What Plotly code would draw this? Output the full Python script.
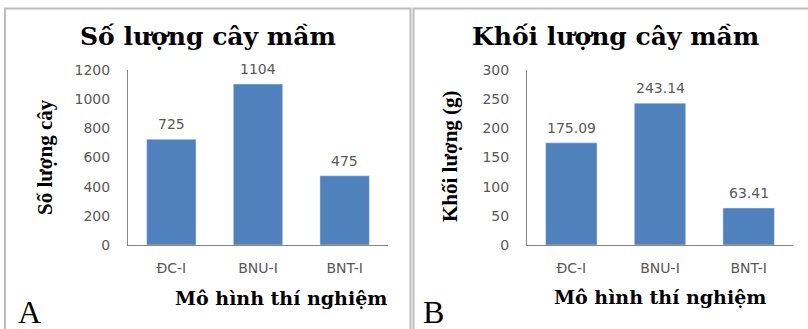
import plotly.graph_objects as go

categories = ["ĐC-I", "BNU-I", "BNT-I"]
counts = [725, 1104, 475]
count_labels = ["725", "1104", "475"]
masses = [175.09, 243.14, 63.41]
mass_labels = ["175.09", "243.14", "63.41"]
count_ticks = [0, 200, 400, 600, 800, 1000, 1200]
mass_ticks = [0, 50, 100, 150, 200, 250, 300]

W, H = 808, 329
def px(x):
    return x / W
def py(y):
    return 1 - y / H

BAR = "#4F81BD"
AX = "#868686"
TXT = "#595959"
tickfont = dict(family="DejaVu Sans", size=14, color=TXT)

fig = go.Figure()
fig.add_trace(go.Bar(x=categories, y=counts, marker=dict(color=BAR), width=0.57,
                     xaxis="x", yaxis="y", showlegend=False, cliponaxis=False))
fig.add_trace(go.Bar(x=categories, y=masses, marker=dict(color=BAR), width=0.58,
                     xaxis="x2", yaxis="y2", showlegend=False, cliponaxis=False))

annotations = []
for c, v, t in zip(categories, counts, count_labels):
    annotations.append(dict(x=c, y=v, xref="x", yref="y", text=t, showarrow=False,
                            yanchor="bottom", yshift=5, font=tickfont))
for c, v, t in zip(categories, masses, mass_labels):
    annotations.append(dict(x=c, y=v, xref="x2", yref="y2", text=t, showarrow=False,
                            yanchor="bottom", yshift=5, font=tickfont))

title_font = dict(family="DejaVu Serif", size=25, color="black")
xt_font = dict(family="DejaVu Serif", size=19, color="black")
yt_font = dict(family="Liberation Serif", size=21, color="black")
letter_font = dict(family="Liberation Serif", size=32, color="black")

def ann(x, y, text, font, angle=0):
    annotations.append(dict(x=px(x), y=py(y), xref="paper", yref="paper", text=text,
                            showarrow=False, xanchor="center", yanchor="middle",
                            font=font, textangle=angle))

ann(207.5, 37, "<b>Số lượng cây mầm</b>", title_font)
ann(615, 37, "<b>Khối lượng cây mầm</b>", title_font)
ann(45, 157, "<b>Số lượng cây</b>", yt_font, -90)
ann(450, 156, "<b>Khối lượng (g)</b>", yt_font, -90)
ann(281, 298, "<b>Mô hình thí nghiệm</b>", xt_font)
ann(660, 297, "<b>Mô hình thí nghiệm</b>", xt_font)
ann(29.5, 312, "A", letter_font)
ann(433, 312, "B", letter_font)

shapes = [
    dict(type="rect", xref="paper", yref="paper", x0=px(5), x1=px(410.5), y0=py(340), y1=py(8.5),
         line=dict(color="#BDBDBD", width=2)),
    dict(type="rect", xref="paper", yref="paper", x0=px(413.5), x1=px(820), y0=py(340), y1=py(8.5),
         line=dict(color="#BDBDBD", width=2)),
]

xa = dict(showline=True, linecolor=AX, linewidth=1, showgrid=False, ticks="",
          tickfont=tickfont, ticklabelstandoff=10, fixedrange=True, automargin=False)
ya = dict(showline=True, linecolor=AX, linewidth=1, showgrid=False, ticks="",
          tickfont=tickfont, ticklabelstandoff=14, zeroline=False, fixedrange=True,
          automargin=False)

fig.update_layout(
    width=W, height=H, margin=dict(l=0, r=0, t=0, b=0, pad=0, autoexpand=False),
    paper_bgcolor="white", plot_bgcolor="white",
    bargap=0.43,
    xaxis=dict(xa, domain=[px(128), px(388)], anchor="y"),
    yaxis=dict(ya, domain=[py(245), py(70)], range=[0, 1200], tickvals=count_ticks, anchor="x"),
    xaxis2=dict(xa, domain=[px(527), px(793)], anchor="y2"),
    yaxis2=dict(ya, domain=[py(245), py(70)], range=[0, 300], tickvals=mass_ticks, anchor="x2"),
    annotations=annotations,
    shapes=shapes,
)

post = (
    "document.body.style.margin='0';"
    "document.body.style.overflow='hidden';"
    "var d=document.getElementById('{plot_id}');"
    "d.style.position='fixed';d.style.left='0px';d.style.top='0px';"
)

fig.write_html("out.html", config={"displayModeBar": False}, post_script=post)
